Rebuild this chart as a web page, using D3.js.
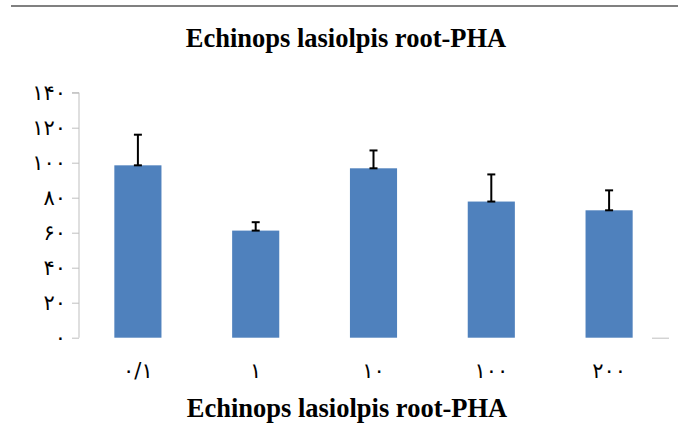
<!DOCTYPE html>
<html><head><meta charset="utf-8">
<script src="https://cdn.jsdelivr.net/npm/d3@7"></script>
<style>body{margin:0;background:#fff;}svg{display:block;}</style>
</head><body>
<script>
const categories = ["۰/۱", "۱", "۱۰", "۱۰۰", "۲۰۰"];
const values = [98.5, 61.2, 96.8, 77.8, 72.8];
const errors = [17.5, 4.8, 10.2, 15.5, 11.4];
const yTicks = [0, 20, 40, 60, 80, 100, 120, 140];
const yTickLabels = ["۰", "۲۰", "۴۰", "۶۰", "۸۰", "۱۰۰", "۱۲۰", "۱۴۰"];
const title = "Echinops lasiolpis root-PHA";

const W = 678, H = 439;
const svg = d3.select("body").append("svg").attr("width", W).attr("height", H);

svg.append("line").attr("x1", 11).attr("x2", 678).attr("y1", 6).attr("y2", 6)
  .attr("stroke", "#808080").attr("stroke-width", 2);

const pLeft = 79, pRight = 668, pTop = 92.7, pBottom = 337.7;
const x = d3.scaleBand().domain(categories).range([pLeft, pRight]).paddingInner(0.6).paddingOuter(0.3);
const y = d3.scaleLinear().domain([0, 140]).range([pBottom, pTop]);

svg.append("text").attr("x", 346).attr("y", 47).attr("text-anchor", "middle")
  .attr("font-family", "Liberation Serif, Times New Roman, serif").attr("font-weight", "bold")
  .attr("font-size", 26.5).text(title);
svg.append("text").attr("x", 347).attr("y", 417).attr("text-anchor", "middle")
  .attr("font-family", "Liberation Serif, Times New Roman, serif").attr("font-weight", "bold")
  .attr("font-size", 26.5).text(title);

const yAxis = d3.axisLeft(y).tickValues(yTicks).tickSize(7).tickPadding(6)
  .tickFormat((d, i) => yTickLabels[i]);
const gy = svg.append("g").attr("transform", `translate(${pLeft},0)`).call(yAxis);
gy.select(".domain").attr("stroke", "#BFBFBF").attr("d", `M-7,${pTop}H0V${pBottom}`);
gy.selectAll(".tick line").attr("stroke", "#BFBFBF");
gy.selectAll(".tick text").attr("font-family", "DejaVu Sans, sans-serif").attr("font-size", 21).attr("fill", "#000");

svg.selectAll("rect.bar").data(values).join("rect").attr("class", "bar")
  .attr("x", (d, i) => x(categories[i])).attr("width", x.bandwidth())
  .attr("y", d => y(d)).attr("height", d => y(0) - y(d)).attr("fill", "#4F81BD");

svg.append("line").attr("x1", 652).attr("x2", 669).attr("y1", y(0) + 0.5).attr("y2", y(0) + 0.5)
  .attr("stroke", "#BFBFBF").attr("stroke-width", 1);

const eg = svg.selectAll("g.err").data(values).join("g").attr("class", "err");
eg.append("line").attr("x1", (d, i) => x(categories[i]) + x.bandwidth() / 2)
  .attr("x2", (d, i) => x(categories[i]) + x.bandwidth() / 2)
  .attr("y1", d => y(d)).attr("y2", (d, i) => y(d + errors[i]))
  .attr("stroke", "#000").attr("stroke-width", 2);
[0, 1].forEach(k => {
  eg.append("line").attr("x1", (d, i) => x(categories[i]) + x.bandwidth() / 2 - 4)
    .attr("x2", (d, i) => x(categories[i]) + x.bandwidth() / 2 + 4)
    .attr("y1", (d, i) => k ? y(d + errors[i]) : y(d)).attr("y2", (d, i) => k ? y(d + errors[i]) : y(d))
    .attr("stroke", "#000").attr("stroke-width", 2);
});

const xAxis = d3.axisBottom(x).tickSize(0).tickPadding(0);
const gx = svg.append("g").attr("transform", `translate(0,${pBottom})`).call(xAxis);
gx.select(".domain").remove();
gx.selectAll(".tick text").attr("dy", null).attr("y", 40).attr("font-family", "DejaVu Sans, sans-serif")
  .attr("font-size", 21).attr("fill", "#000");
</script>
</body></html>
